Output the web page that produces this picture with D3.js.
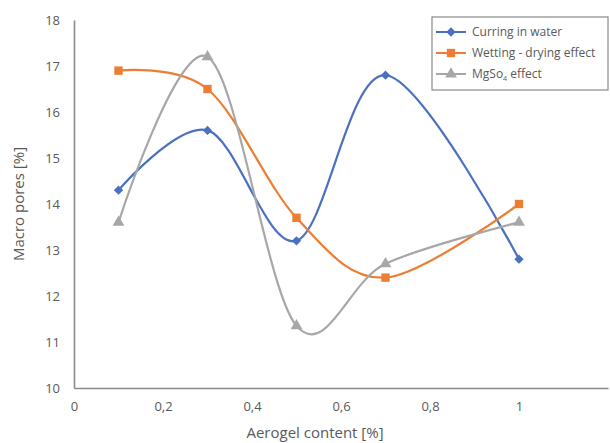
<!DOCTYPE html>
<html><head><meta charset="utf-8">
<script src="https://cdn.jsdelivr.net/npm/d3@7"></script>
<style>
body{margin:0;background:#fff;}
text{font-family:"Open Sans",sans-serif;fill:#595959;}
</style></head>
<body><svg id="c" width="610" height="443"></svg>
<script>
const xValues = [0.1, 0.3, 0.5, 0.7, 1.0];
const curingWater = [14.3, 15.6, 13.2, 16.8, 12.8];
const wettingDrying = [16.9, 16.5, 13.7, 12.4, 14.0];
const mgso4Effect = [13.6, 17.2, 11.35, 12.7, 13.6];
const xTicks = [0, 0.2, 0.4, 0.6, 0.8, 1];
const yTicks = [10, 11, 12, 13, 14, 15, 16, 17, 18];
const seriesNames = ["Curring in water", "Wetting - drying effect", "MgSo4 effect"];

const svg = d3.select("#c");
const x = d3.scaleLinear().domain([0, 1.2]).range([74, 608]);
const y = d3.scaleLinear().domain([10, 18]).range([388, 20]);

const fmt = d => String(d).replace(".", ",");

const gx = svg.append("g").attr("transform", "translate(0,388)")
  .call(d3.axisBottom(x).tickValues(xTicks).tickSize(0).tickPadding(14).tickFormat(fmt));
gx.select(".domain").attr("stroke", "#8a8a8a").attr("stroke-width", 1.6);
gx.selectAll("text").style("font-size", "13px").attr("fill", "#595959");

const gy = svg.append("g").attr("transform", "translate(74,0)")
  .call(d3.axisLeft(y).tickValues(yTicks).tickSize(0).tickPadding(14));
gy.select(".domain").attr("stroke", "#8a8a8a").attr("stroke-width", 1.6);
gy.selectAll("text").style("font-size", "13px").attr("fill", "#595959");

svg.append("text").attr("x", 315).attr("y", 438).attr("text-anchor", "middle")
  .style("font-size", "15px").text("Aerogel content [%]");
svg.append("text").attr("transform", "translate(24,204) rotate(-90)").attr("text-anchor", "middle")
  .style("font-size", "15px").text("Macro pores [%]");

const colors = ["#4a70c0", "#ec7d33", "#a7a7a7"];
const data = [curingWater, wettingDrying, mgso4Effect];
const line = d3.line().x((d, i) => x(xValues[i])).y(d => y(d)).curve(d3.curveCatmullRom.alpha(0));

const symbols = [
  d3.symbol().type(d3.symbolDiamond2).size(55),
  d3.symbol().type(d3.symbolSquare).size(70),
  d3.symbol().type(d3.symbolTriangle).size(60)
];

data.forEach((vals, s) => {
  svg.append("path").datum(vals).attr("d", line).attr("fill", "none")
    .attr("stroke", colors[s]).attr("stroke-width", 2.2);
});
data.forEach((vals, s) => {
  svg.selectAll(null).data(vals).enter().append("path")
    .attr("d", symbols[s])
    .attr("transform", (d, i) => `translate(${x(xValues[i])},${y(d)})`)
    .attr("fill", colors[s]);
});

// legend
const lg = svg.append("g");
lg.append("rect").attr("x", 432).attr("y", 17).attr("width", 176).attr("height", 73)
  .attr("fill", "#fff").attr("stroke", "#8a8a8a").attr("stroke-width", 1.2);
const ly = [32, 53, 74];
seriesNames.forEach((n, s) => {
  lg.append("line").attr("x1", 436).attr("x2", 466).attr("y1", ly[s]).attr("y2", ly[s])
    .attr("stroke", colors[s]).attr("stroke-width", 2);
  lg.append("path").attr("d", symbols[s]).attr("transform", `translate(451,${ly[s]})`).attr("fill", colors[s]);
  const t = lg.append("text").attr("x", 472).attr("y", ly[s] + 4).style("font-size", "12px");
  if (s === 2) {
    t.append("tspan").text("MgSo");
    t.append("tspan").attr("dy", 3).style("font-size", "7px").text("4");
    t.append("tspan").attr("dy", -3).text(" effect");
  } else {
    t.text(n);
  }
});
</script></body></html>
